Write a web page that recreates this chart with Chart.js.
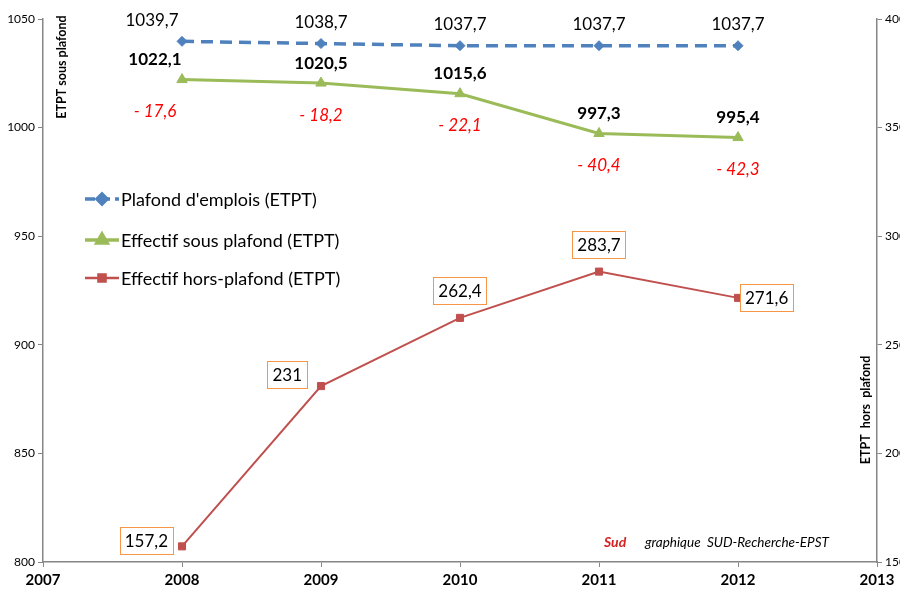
<!DOCTYPE html>
<html>
<head>
<meta charset="utf-8">
<script src="https://cdn.jsdelivr.net/npm/chart.js@4"></script>
<style>
  html, body { margin: 0; padding: 0; background: #fff; }
  #wrap { width: 900px; height: 591px; }
</style>
</head>
<body>
<div id="wrap"><canvas id="chart" width="900" height="591"></canvas></div>
<script>
// data
const years = [2008, 2009, 2010, 2011, 2012];
const plafond = [1039.7, 1038.7, 1037.7, 1037.7, 1037.7];
const sousPlafond = [1022.1, 1020.5, 1015.6, 997.3, 995.4];
const horsPlafond = [157.2, 231, 262.4, 283.7, 271.6];
const seriesNames = ["Plafond d'emplois (ETPT)", "Effectif sous plafond (ETPT)", "Effectif hors-plafond (ETPT)"];

const FONT = "Lato, 'Open Sans', sans-serif";
const BLUE = "#4F81BD", GREEN = "#9BBB59", RED = "#C0504D", ORANGE = "#F79646";

const fmt = v => String(v).replace(".", ",");
const pts = arr => arr.map((v, i) => ({ x: years[i], y: v }));

// labels, legend, titles drawn over the chart area
const overlay = {
  id: "overlay",
  afterDatasetsDraw(chart) {
    const ctx = chart.ctx;
    ctx.save();
    ctx.textAlign = "center";
    ctx.textBaseline = "middle";

    const m0 = chart.getDatasetMeta(0).data;
    const m1 = chart.getDatasetMeta(1).data;
    const m2 = chart.getDatasetMeta(2).data;

    m0.forEach((p, i) => {
      const dx = i === 0 ? -30 : 0;
      ctx.fillStyle = "#000";
      ctx.font = "17px " + FONT;
      ctx.fillText(fmt(plafond[i]), p.x + dx, p.y - 21);
    });
    m1.forEach((p, i) => {
      const dx = i === 0 ? -27 : 0;
      ctx.fillStyle = "#000";
      ctx.font = "bold 17px " + FONT;
      ctx.fillText(fmt(sousPlafond[i]), p.x + dx, p.y - 20);
      const d = sousPlafond[i] - plafond[i];
      ctx.fillStyle = "#FF0000";
      ctx.font = "italic 17px " + FONT;
      ctx.fillText((d < 0 ? "- " : "") + Math.abs(d).toFixed(1).replace(".", ","), p.x + dx, p.y + 32);
    });

    // boxed labels for hors-plafond
    const place = ["left", "leftup", "up", "up", "right"];
    ctx.font = "17px " + FONT;
    m2.forEach((p, i) => {
      const txt = fmt(horsPlafond[i]);
      const w = ctx.measureText(txt).width + 10, h = 27;
      let cx = p.x, cy = p.y;
      if (place[i] === "left") { cx = p.x - w / 2 - 9; cy = p.y - 6; }
      if (place[i] === "leftup") { cx = p.x - w / 2 - 14; cy = p.y - 12; }
      if (place[i] === "up") { cy = p.y - 27; }
      if (place[i] === "right") { cx = p.x + w / 2 + 2; }
      ctx.fillStyle = "#fff";
      ctx.fillRect(cx - w / 2, cy - h / 2, w, h);
      ctx.strokeStyle = ORANGE;
      ctx.lineWidth = 1;
      ctx.strokeRect(Math.round(cx - w / 2) + 0.5, Math.round(cy - h / 2) + 0.5, Math.round(w), h);
      ctx.fillStyle = "#000";
      ctx.fillText(txt, cx, cy + 1);
    });

    // legend
    const items = [
      { c: BLUE, y: 199, s: "rectRot", dash: [10, 5], r: 5 },
      { c: GREEN, y: 240, s: "triangle", dash: [], r: 6 },
      { c: RED, y: 278, s: "rect", dash: [], r: 5 },
    ];
    items.forEach((it, k) => {
      ctx.strokeStyle = it.c;
      ctx.lineWidth = k === 2 ? 2.5 : 3.5;
      ctx.setLineDash(it.dash);
      ctx.beginPath();
      ctx.moveTo(85, it.y);
      ctx.lineTo(119, it.y);
      ctx.stroke();
      ctx.setLineDash([]);
      ctx.fillStyle = it.c;
      Chart.helpers.drawPoint(ctx, { pointStyle: it.s, radius: it.r, borderWidth: 1 }, 102, it.y);
      ctx.fillStyle = "#000";
      ctx.textAlign = "left";
      ctx.font = "18px " + FONT;
      ctx.fillText(seriesNames[k], 121, it.y + 1);
    });

    // axis titles inside the plot
    ctx.font = "bold 12.5px " + FONT;
    ctx.textAlign = "center";
    ctx.fillStyle = "#000";
    ctx.save();
    ctx.translate(62, 67);
    ctx.rotate(-Math.PI / 2);
    ctx.fillText("ETPT sous plafond", 0, 0);
    ctx.restore();
    ctx.save();
    ctx.translate(866, 410);
    ctx.rotate(-Math.PI / 2);
    ctx.fillText("ETPT  hors  plafond", 0, 0);
    ctx.restore();

    // credit
    ctx.textAlign = "left";
    ctx.fillStyle = "#D42020";
    ctx.font = "bold italic 14px " + FONT;
    ctx.fillText("Sud", 604, 542);
    ctx.fillStyle = "#000";
    ctx.font = "italic 13.5px " + FONT;
    ctx.fillText("graphique  SUD-Recherche-EPST", 645, 543);
    ctx.restore();
  }
};

new Chart(document.getElementById("chart"), {
  type: "line",
  data: {
    datasets: [
      {
        label: seriesNames[0], data: pts(plafond), yAxisID: "y",
        borderColor: BLUE, backgroundColor: BLUE, borderWidth: 3.5, borderDash: [12, 7],
        pointStyle: "rectRot", pointRadius: 5, pointBorderWidth: 1
      },
      {
        label: seriesNames[1], data: pts(sousPlafond), yAxisID: "y",
        borderColor: GREEN, backgroundColor: GREEN, borderWidth: 3,
        pointStyle: "triangle", pointRadius: 6, pointBorderWidth: 1
      },
      {
        label: seriesNames[2], data: pts(horsPlafond), yAxisID: "y1",
        borderColor: RED, backgroundColor: RED, borderWidth: 2,
        pointStyle: "rect", pointRadius: 5, pointBorderWidth: 1
      }
    ]
  },
  options: {
    responsive: false,
    animation: false,
    layout: { padding: { top: 19 } },
    plugins: { legend: { display: false }, tooltip: { enabled: false } },
    scales: {
      x: {
        type: "linear", min: 2007, max: 2013,
        afterFit: s => { s.height = 29; },
        ticks: { stepSize: 1, color: "#000", font: { family: FONT, size: 15, weight: "bold" }, callback: v => String(v), padding: 4 },
        grid: { drawOnChartArea: false, tickLength: 5, color: "#868686" },
        border: { color: "#868686", width: 1.5 }
      },
      y: {
        position: "left", min: 800, max: 1050,
        afterFit: s => { s.width = 43; },
        ticks: { stepSize: 50, color: "#000", font: { family: FONT, size: 12 }, padding: 3, callback: v => String(v) },
        grid: { drawOnChartArea: false, tickLength: 5, color: "#868686" },
        border: { color: "#868686", width: 1.5 }
      },
      y1: {
        position: "right", min: 150, max: 400,
        afterFit: s => { s.width = 23; },
        ticks: { stepSize: 50, color: "#000", font: { family: FONT, size: 12 }, padding: 3, callback: v => String(v) },
        grid: { drawOnChartArea: false, tickLength: 5, color: "#868686" },
        border: { color: "#868686", width: 1.5 }
      }
    }
  },
  plugins: [overlay]
});
</script>
</body>
</html>
